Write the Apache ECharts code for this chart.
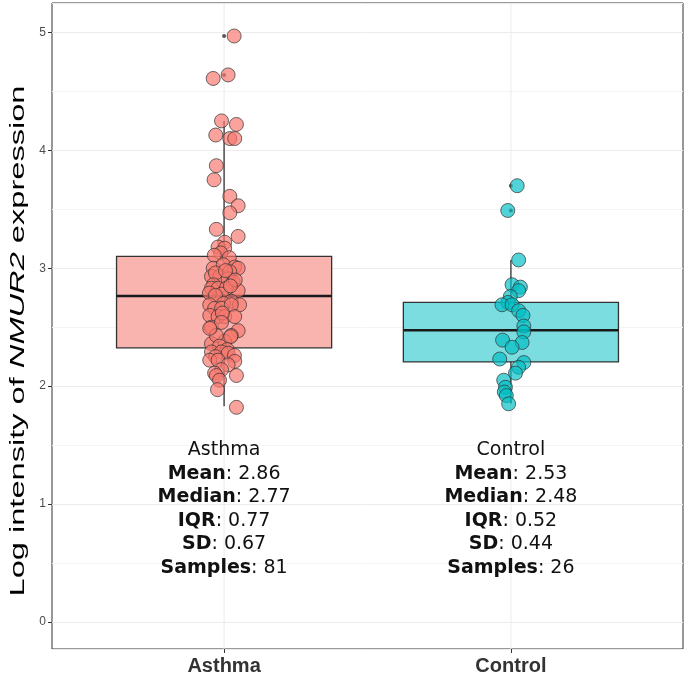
<!DOCTYPE html>
<html><head><meta charset="utf-8">
<script src="https://cdn.jsdelivr.net/npm/echarts@6/dist/echarts.min.js"></script>
<style>html,body{margin:0;padding:0;background:#fff}#c{width:685px;height:677px}</style>
</head><body><div id="c"></div><script>
const groups = ['Asthma', 'Control'];
const asthmaValues = [4.97,4.64,4.61,4.25,4.22,4.13,4.10,4.10,3.87,3.75,3.61,3.53,3.47,
  3.33,3.27,3.22,3.18,3.17,3.13,3.11,3.09,3.00,3.03,3.01,3.00,
  2.93,2.93,2.97,2.96,2.91,2.88,2.86,2.83,2.83,2.81,2.83,2.78,2.98,2.90,2.85,2.79,
  2.77,2.72,2.70,2.69,2.66,2.66,2.69,2.69,2.60,2.59,2.59,2.59,2.62,
  2.50,2.54,2.47,2.43,2.38,2.36,2.43,2.49,2.42,2.34,2.31,2.29,2.29,2.28,2.26,2.25,
  2.22,2.22,2.21,2.18,2.14,2.11,2.09,2.09,2.05,1.97,1.82];
const asthmaJitter = [0.035,0.014,-0.038,-0.009,0.043,-0.029,0.020,0.037,-0.027,-0.035,0.020,0.049,0.020,
  -0.027,0.049,0.002,-0.021,0.002,-0.012,-0.034,0.018,-0.038,-0.003,0.037,0.049,
  -0.044,-0.015,0.020,-0.030,0.014,0.032,-0.037,-0.044,-0.021,0.049,0.008,-0.009,0.005,0.039,0.022,-0.051,
  -0.030,0.025,-0.002,-0.050,-0.033,-0.009,0.054,0.025,-0.050,-0.021,0.002,0.037,-0.006,
  -0.044,-0.009,0.049,0.025,0.002,-0.044,-0.027,-0.050,0.023,-0.016,0.011,-0.044,-0.009,0.014,0.036,-0.030,
  -0.050,-0.021,0.037,0.014,-0.009,-0.033,0.043,-0.027,-0.016,-0.023,0.043];
const controlValues = [3.70,3.49,3.07,2.86,2.84,2.81,2.76,2.71,2.69,2.69,2.64,2.60,2.51,2.46,2.39,2.37,2.33,
  2.23,2.20,2.16,2.11,2.05,1.99,1.95,1.92,1.85];
const controlJitter = [0.022,-0.011,0.027,0.004,0.033,0.027,-0.002,-0.010,-0.031,0.004,0.027,0.042,0.045,0.045,
  -0.029,0.039,0.004,-0.039,0.045,0.027,0.016,-0.025,-0.019,-0.023,-0.016,-0.008];
const boxLow = [1.83, 1.85];
const boxQ1 = [2.325, 2.205];
const boxMedian = [2.765, 2.475];
const boxQ3 = [3.10, 2.71];
const boxHigh = [4.25, 3.07];
const asthmaOutliers = [4.97, 4.64];
const controlOutliers = [3.70, 3.49];
const statMean = ['2.86', '2.53'];
const statMedian = ['2.77', '2.48'];
const statIQR = ['0.77', '0.52'];
const statSD = ['0.67', '0.44'];
const statSamples = ['81', '26'];
const groupColors = ['#F8766D', '#00BFC4'];
const boxFills = ['#FAB4B0', '#7BDDE0'];

const chart = echarts.init(document.getElementById('c'), null, {renderer: 'canvas'});

const boxData = groups.map((g, i) => [i + 1, boxLow[i], boxQ1[i], boxMedian[i], boxQ3[i], boxHigh[i], i]);
const asthmaPts = asthmaValues.map((v, i) => [1 + asthmaJitter[i], v]);
const controlPts = controlValues.map((v, i) => [2 + controlJitter[i], v]);
const outlierPts = asthmaOutliers.map(v => [1, v]).concat(controlOutliers.map(v => [2, v]));
const statData = groups.map((g, i) => [i + 1, 1.555, i]);

function hexA(hex, a) {
  const n = parseInt(hex.slice(1), 16);
  return 'rgba(' + (n >> 16) + ',' + ((n >> 8) & 255) + ',' + (n & 255) + ',' + a + ')';
}

const option = {
  animation: false,
  backgroundColor: '#fff',
  grid: {left: 52, right: 2, top: 3, bottom: 28, show: true, borderColor: '#333', borderWidth: 1, backgroundColor: 'transparent'},
  xAxis: {
    type: 'value', min: 0.4, max: 2.6,
    axisLine: {show: false, onZero: false},
    splitLine: {show: false},
    axisTick: {show: true, length: 4, lineStyle: {color: '#333'}, customValues: [1, 2]},
    axisLabel: {customValues: [1, 2], formatter: v => (Math.abs(v - Math.round(v)) < 1e-6 && groups[Math.round(v) - 1]) || '',
      fontFamily: 'Liberation Sans', fontWeight: 'bold', fontSize: 20, color: '#333', margin: 7}
  },
  yAxis: {
    type: 'value', min: -0.23, max: 5.25,
    axisLine: {show: false, onZero: false},
    axisTick: {show: true, length: 4, lineStyle: {color: '#333'}},
    axisLabel: {showMinLabel: false, showMaxLabel: false, fontFamily: 'Liberation Sans', fontSize: 12, color: '#4D4D4D', margin: 6},
    splitLine: {show: true, lineStyle: {color: '#EBEBEB', width: 1}},
    minorTick: {show: false, splitNumber: 2},
    minorSplitLine: {show: true, lineStyle: {color: '#F4F4F4', width: 1}}
  },
  graphic: [{
    type: 'text', x: 18, y: 341, rotation: Math.PI / 2, scaleX: 1.63, scaleY: 1,
    style: {
      text: '{a|Log intensity of }{i|NMUR2}{a| expression}',
      align: 'center', verticalAlign: 'middle',
      rich: {
        a: {fontFamily: 'Liberation Sans', fontSize: 20, fill: '#000'},
        i: {fontFamily: 'Liberation Sans', fontSize: 20, fontStyle: 'italic', fill: '#000'}
      }
    }
  }],
  series: [
    {
      type: 'custom', z: 2, data: boxData,
      renderItem: function (params, api) {
        const x = api.value(0);
        const idx = api.value(6);
        const lo = api.coord([x, api.value(1)]);
        const q1 = api.coord([x, api.value(2)]);
        const md = api.coord([x, api.value(3)]);
        const q3 = api.coord([x, api.value(4)]);
        const hi = api.coord([x, api.value(5)]);
        const half = api.size([0.75, 0])[0] / 2;
        const cs = params.coordSys;
        return {type: 'group', children: [
          {type: 'line', shape: {x1: lo[0], y1: cs.y, x2: lo[0], y2: cs.y + cs.height}, style: {stroke: '#EBEBEB', lineWidth: 1}},
          {type: 'line', shape: {x1: hi[0], y1: hi[1], x2: q3[0], y2: q3[1]}, style: {stroke: '#333', lineWidth: 1.3}},
          {type: 'line', shape: {x1: lo[0], y1: lo[1], x2: q1[0], y2: q1[1]}, style: {stroke: '#333', lineWidth: 1.3}},
          {type: 'rect', shape: {x: lo[0] - half, y: q3[1], width: half * 2, height: q1[1] - q3[1]},
            style: {fill: boxFills[idx], stroke: '#333', lineWidth: 1.3}},
          {type: 'line', shape: {x1: lo[0] - half, y1: md[1], x2: lo[0] + half, y2: md[1]}, style: {stroke: '#1a1a1a', lineWidth: 2.5}}
        ]};
      }
    },
    {
      type: 'scatter', z: 3, data: outlierPts, symbolSize: 4,
      itemStyle: {color: '#555', opacity: 1}
    },
    {
      type: 'scatter', z: 4, data: asthmaPts, symbolSize: 14,
      itemStyle: {color: hexA(groupColors[0], 0.85), borderColor: '#333', borderWidth: 0.9}
    },
    {
      type: 'scatter', z: 4, data: controlPts, symbolSize: 14,
      itemStyle: {color: hexA(groupColors[1], 0.85), borderColor: '#333', borderWidth: 0.9}
    },
    {
      type: 'custom', z: 5, data: statData,
      renderItem: function (params, api) {
        const idx = api.value(2);
        const p = api.coord([api.value(0), api.value(1)]);
        const txt = '{n|' + groups[idx] + '}\n' +
          '{b|Mean}{n|: ' + statMean[idx] + '}\n' +
          '{b|Median}{n|: ' + statMedian[idx] + '}\n' +
          '{b|IQR}{n|: ' + statIQR[idx] + '}\n' +
          '{b|SD}{n|: ' + statSD[idx] + '}\n' +
          '{b|Samples}{n|: ' + statSamples[idx] + '}';
        return {
          type: 'text', x: p[0], y: p[1],
          style: {
            text: txt, align: 'center', verticalAlign: 'top',
            fontFamily: 'DejaVu Sans', fontSize: 19, lineHeight: 23.5, fill: '#111',
            rich: {
              n: {fontFamily: 'DejaVu Sans', fontSize: 19, lineHeight: 23.5, fill: '#111'},
              b: {fontFamily: 'DejaVu Sans', fontSize: 19, fontWeight: 'bold', lineHeight: 23.5, fill: '#111'}
            }
          }
        };
      }
    }
  ]
};
chart.setOption(option);
</script></body></html>
